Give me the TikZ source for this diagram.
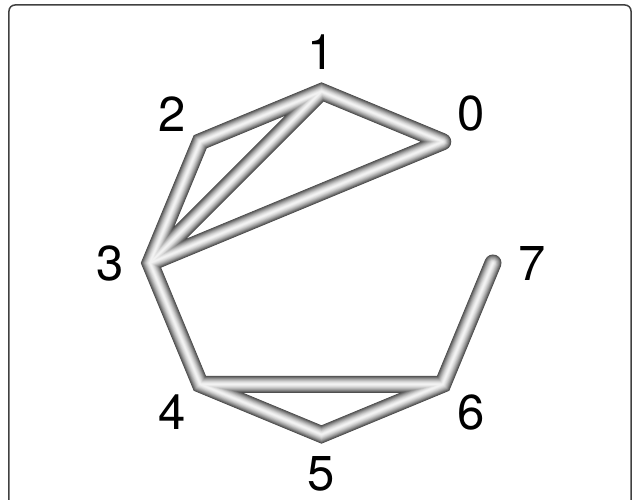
\documentclass[tikz,border=0pt]{standalone}
\usepackage{fontspec}
\setmainfont{TeX Gyre Heros}

\begin{document}
\begin{tikzpicture}[x=1pt, y=1pt,
    lbl/.style={font=\fontsize{49}{49}\selectfont, inner sep=0pt},
    tube/.style={line cap=round, line join=miter}]
  \useasboundingbox (-321.5,-237) rectangle (310.5,263);
  \draw[rounded corners=6pt, line width=1.5pt, black!75] (-312.5,-260) rectangle (309.5,258);
  \foreach \i in {0,...,7} {
    \coordinate (v\i) at ({45+45*\i}:171.5);
    \node[lbl] (l\i) at ({45+45*\i}:211) {\i};
  }
  \foreach \k in {0,...,16} {
    \pgfmathsetmacro{\w}{17-\k}
    \pgfmathtruncatemacro{\b}{26+70*(1-((16.5-\k)/17)^1.5)}
    \draw[tube, line width=\w pt, white!\b!black]
      (v0) -- (v1) -- (v2) -- (v3) -- (v4) -- (v5) -- (v6) -- (v7)
      (v1) -- (v3) (v3) -- (v0) (v4) -- (v6);
  }
\end{tikzpicture}
\end{document}
